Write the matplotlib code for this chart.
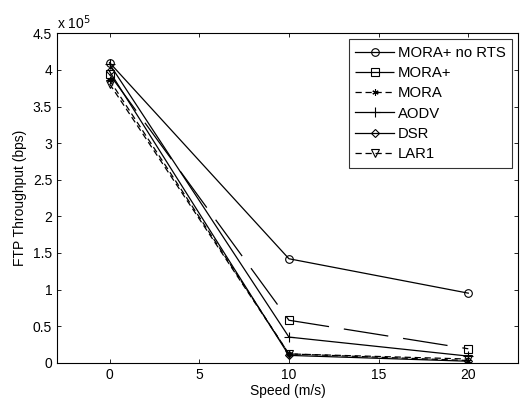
import matplotlib
matplotlib.use("Agg")
import matplotlib.pyplot as plt
from matplotlib.ticker import FuncFormatter, MultipleLocator

plt.rcParams['font.family'] = ['Liberation Sans', 'DejaVu Sans']

speed = [0, 10, 20]
mora_plus_no_rts = [4.10e5, 1.42e5, 0.95e5]
mora_plus = [3.94e5, 0.58e5, 0.19e5]
mora = [3.86e5, 0.12e5, 0.03e5]
aodv = [4.08e5, 0.35e5, 0.09e5]
dsr = [3.98e5, 0.10e5, 0.02e5]
lar1 = [3.81e5, 0.12e5, 0.05e5]
labels = ['MORA+ no RTS', 'MORA+', 'MORA', 'AODV', 'DSR', 'LAR1']

fig = plt.figure(figsize=(5.2, 4.03), dpi=100)
ax = fig.add_axes([57/520, 1 - 362.7/403, (518 - 57)/520, (362.7 - 33.3)/403])

lw = 0.9
ms = 5.5
ax.plot(speed, mora_plus_no_rts, color='k', lw=lw, ls='-', marker='o', ms=ms, mfc='none', mew=0.8, label=labels[0])
ax.plot(speed, mora_plus, color='k', lw=lw, ls=(0, (36, 12)), marker='s', ms=ms, mfc='none', mew=0.8, label=labels[1])
ax.plot(speed, mora, color='k', lw=lw, ls=(0, (5, 3)), marker=(6, 2, 0), ms=4.5, mew=0.8, label=labels[2])
ax.plot(speed, aodv, color='k', lw=lw, ls='-', marker='+', ms=7, mew=0.8, label=labels[3])
ax.plot(speed, dsr, color='k', lw=lw, ls='-', marker='D', ms=4, mfc='none', mew=0.8, label=labels[4])
ax.plot(speed, lar1, color='k', lw=lw, ls=(0, (5, 3)), marker='v', ms=5.5, mfc='none', mew=0.8, label=labels[5])

ax.set_xlim(-2.93, 22.77)
ax.set_ylim(0, 4.5e5)
ax.xaxis.set_major_locator(MultipleLocator(5))
ax.yaxis.set_major_locator(MultipleLocator(0.5e5))
ax.yaxis.set_major_formatter(FuncFormatter(lambda v, p: ('%g' % (v / 1e5))))
ax.tick_params(direction='in', top=True, right=True, labelsize=10, length=3, width=0.6)
for s in ax.spines.values():
    s.set_linewidth(0.8)

ax.set_xlabel('Speed (m/s)', fontsize=10, labelpad=2)
ax.set_ylabel('FTP Throughput (bps)', fontsize=10, labelpad=4)
ax.text(0.0, 1.005, 'x 10$^5$', transform=ax.transAxes, fontsize=10, ha='left', va='bottom')

leg = ax.legend(loc='upper right', fontsize=10.7, frameon=True, fancybox=False,
                edgecolor='k', handlelength=2.6, borderpad=0.45, labelspacing=0.42,
                handletextpad=0.25, borderaxespad=0.4)
leg.get_frame().set_linewidth(0.8)

fig.savefig('out.png', dpi=100)
